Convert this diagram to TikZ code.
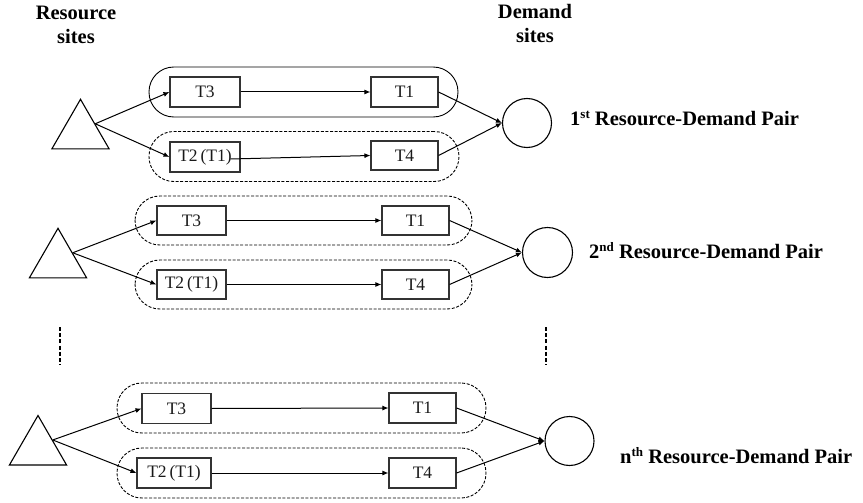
\documentclass[tikz,border=0pt]{standalone}
\usepackage{fontspec}
\setmainfont{Liberation Serif}
\usetikzlibrary{arrows.meta,shapes.geometric}

% ordinal suffix, set small and only slightly raised
\newcommand{\ordsuf}[1]{\raisebox{0.3em}{\fontsize{13}{13}\selectfont #1}}

\tikzset{
  task/.style={draw=black!80, line width=1.1pt, rectangle, inner sep=0pt,
    minimum height=30pt, text=black!90, font=\fontsize{17.5}{19}\selectfont},
  chain/.style={rectangle, inner sep=0pt, line width=0.9pt, minimum height=50pt,
    rounded corners=24.8pt},
  solidchain/.style={chain, draw=black},
  dashchain/.style={chain, draw=black, dash pattern=on 3pt off 1.6pt},
  source/.style={regular polygon, regular polygon sides=3, draw, line width=1.1pt,
    inner sep=0pt, minimum size=66pt},
  sink/.style={circle, draw, line width=1.1pt, inner sep=0pt, minimum size=49pt},
  flow/.style={line width=1pt, -{Latex[length=6pt,width=5pt]}},
  heading/.style={font=\fontsize{20.5}{23.5}\selectfont\bfseries, align=center,
    inner sep=0pt, anchor=north},
  pairlabel/.style={font=\fontsize{20.5}{24}\selectfont\bfseries, inner sep=0pt,
    anchor=base west},
  ellipsis/.style={line width=2pt, dash pattern=on 4pt off 2.2pt}
}

\begin{document}
\begin{tikzpicture}[x=1pt, y=-1pt]
\useasboundingbox (0,0) rectangle (863,503);

% column headings
\node[heading] (hres) at (76,6) {Resource\\sites};
\node[heading] (hdem) at (535,4.5) {Demand\\sites};

% ---------- first pair ----------
\node[solidchain, minimum width=309pt] (g1up) at (303.5,92) {};
\node[dashchain,  minimum width=310pt] (g1lo) at (304,156.5) {};
\node[source] (g1s) at (80.5,132.3) {};
\node[task, minimum width=70pt] (g1a) at (205,92) {T3};
\node[task, minimum width=70pt] (g1b) at (205,157) {T2\,(T1)};
\node[task, minimum width=67pt] (g1c) at (404.5,92) {T1};
\node[task, minimum width=67pt, minimum height=29pt] (g1d) at (404.5,155.5) {T4};
\node[sink] (g1t) at (527,123) {};
\node[pairlabel] (g1l) at (570,125) {1\ordsuf{st} Resource-Demand Pair};
\draw[flow] (g1s.side 3) -- (g1a.west);
\draw[flow] (g1s.side 3) -- (g1b.west);
\draw[flow] (g1a.east) -- (g1c.west);
\draw[flow] ([xshift=-10pt,yshift=-2pt]g1b.east) -- (g1d.west);
\draw[flow] (g1c.east) -- (g1t.west);
\draw[flow] (g1d.east) -- (g1t.west);

% ---------- second pair ----------
\node[dashchain, minimum width=337pt, minimum height=49pt] (g2up) at (303.5,220.5) {};
\node[dashchain, minimum width=337pt, minimum height=49pt] (g2lo) at (303.5,284.5) {};
\node[source] (g2s) at (58,261.3) {};
\node[task, minimum width=69pt, minimum height=29pt] (g2a) at (191.5,220.5) {T3};
\node[task, minimum width=69pt, minimum height=29pt] (g2b) at (191.5,284.5) {T2\,(T1)};
\node[task, minimum width=67pt, minimum height=29pt] (g2c) at (415.5,220.5) {T1};
\node[task, minimum width=67pt, minimum height=29pt] (g2d) at (415.5,284.5) {T4};
\node[sink, minimum size=50pt] (g2t) at (547.5,252.5) {};
\node[pairlabel] (g2l) at (589,258) {2\ordsuf{nd} Resource-Demand Pair};
\draw[flow] (g2s.side 3) -- (g2a.west);
\draw[flow] (g2s.side 3) -- (g2b.west);
\draw[flow] (g2a.east) -- (g2c.west);
\draw[flow] (g2b.east) -- (g2d.west);
\draw[flow] (g2c.east) -- (g2t.west);
\draw[flow] (g2d.east) -- (g2t.west);

% vertical ellipses between the pairs
\draw[ellipsis] (60,327) -- (60,365);
\draw[ellipsis] (546,327) -- (546,365);

% ---------- n-th pair ----------
\node[dashchain, minimum width=369pt] (gnup) at (301.5,408) {};
\node[dashchain, minimum width=369pt] (gnlo) at (301.5,473) {};
\node[source] (gns) at (38,448.5) {};
\node[task, minimum width=69pt] (gna) at (176.5,408.5) {T3};
\node[task, minimum width=74pt] (gnb) at (174,473) {T2\,(T1)};
\node[task, minimum width=67pt] (gnc) at (422.5,408) {T1};
\node[task, minimum width=67pt] (gnd) at (422.5,473) {T4};
\node[sink] (gnt) at (569.5,441) {};
\node[pairlabel] (gnl) at (620,463) {n\ordsuf{th} Resource-Demand Pair};
\draw[flow] (gns.side 3) -- (gna.west);
\draw[flow] (gns.side 3) -- (gnb.west);
\draw[flow] (gna.east) -- (gnc.west);
\draw[flow] (gnb.east) -- (gnd.west);
\draw[flow] (gnc.east) -- (gnt.west);
\draw[flow] (gnd.east) -- (gnt.west);
\end{tikzpicture}
\end{document}
